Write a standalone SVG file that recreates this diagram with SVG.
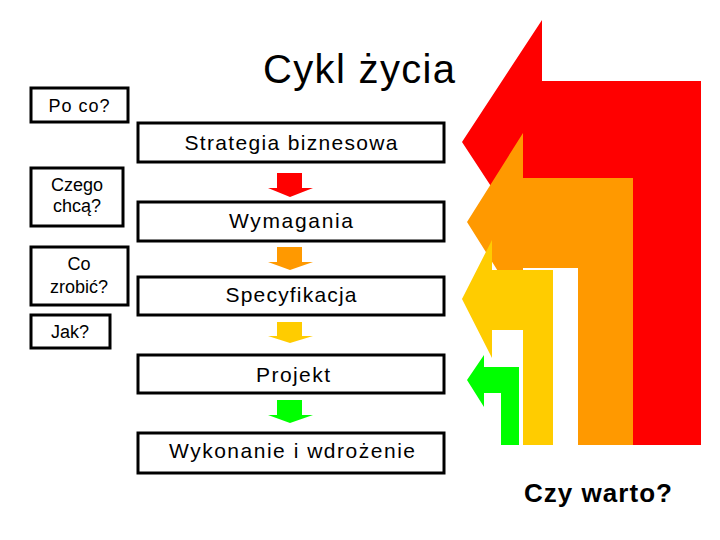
<svg xmlns="http://www.w3.org/2000/svg" width="720" height="540" viewBox="0 0 720 540">
  <style>
    .box { fill: #ffffff; stroke: #000000; stroke-width: 3; }
    .t { font-family: "Liberation Sans", Arial, sans-serif; fill: #000000; text-anchor: middle; }
    .main { font-size: 21px; }
    .side { font-size: 18px; }
  </style>
  <rect width="720" height="540" fill="#ffffff"/>

  <g id="feedback">
    <polygon fill="#ff0000" points="542,20 542,81 701,81 701,445 633,445 633,180 542,180 542,264 462,142"/>
    <polygon fill="#ff9900" points="523,133 523,178 633,178 633,445 578,445 578,268 523,268 523,311 467,222"/>
    <polygon fill="#ffcc00" points="492,240 492,270 553,270 553,445 523,445 523,330 492,330 492,358 462,299"/>
    <polygon fill="#00ff00" points="484,355 484,367 519,367 519,445 501,445 501,393 484,393 484,407 467,380"/>
  </g>

  <text class="t" x="359" y="83" font-size="40" textLength="192" lengthAdjust="spacing">Cykl życia</text>

  <g id="connectors">
    <polygon fill="#ff0000" points="277,173 302,173 302,188 313,188 290,197 268,188 277,188"/>
    <polygon fill="#ff9900" points="277,247 302,247 302,262 313,262 290,270 268,262 277,262"/>
    <polygon fill="#ffcc00" points="277,322 302,322 302,336 313,336 290,343 268,336 277,336"/>
    <polygon fill="#00ff00" points="277,400 302,400 302,415 313,415 290,423 268,415 277,415"/>
  </g>

  <g id="strategia">
    <rect class="box" x="138" y="123" width="306" height="39"/>
    <text class="t main" x="291" y="150" textLength="213" lengthAdjust="spacing">Strategia biznesowa</text>
  </g>
  <g id="wymagania">
    <rect class="box" x="138" y="202" width="306" height="39"/>
    <text class="t main" x="291" y="228" textLength="124" lengthAdjust="spacing">Wymagania</text>
  </g>
  <g id="specyfikacja">
    <rect class="box" x="138" y="277" width="306" height="38"/>
    <text class="t main" x="291" y="302" textLength="131" lengthAdjust="spacing">Specyfikacja</text>
  </g>
  <g id="projekt">
    <rect class="box" x="138" y="355" width="306" height="38"/>
    <text class="t main" x="293" y="382" textLength="74" lengthAdjust="spacing">Projekt</text>
  </g>
  <g id="wykonanie">
    <rect class="box" x="138" y="433" width="306" height="40"/>
    <text class="t main" x="292" y="458" textLength="246" lengthAdjust="spacing">Wykonanie i wdrożenie</text>
  </g>

  <g id="po-co">
    <rect class="box" x="31" y="88" width="97" height="34"/>
    <text class="t side" x="79" y="112" textLength="61" lengthAdjust="spacing">Po co?</text>
  </g>
  <g id="czego-chca">
    <rect class="box" x="31" y="168" width="92" height="58"/>
    <text class="t side" x="77" y="191">Czego</text>
    <text class="t side" x="77" y="212">chcą?</text>
  </g>
  <g id="co-zrobic">
    <rect class="box" x="31" y="247" width="97" height="58"/>
    <text class="t side" x="79" y="270">Co</text>
    <text class="t side" x="79" y="293">zrobić?</text>
  </g>
  <g id="jak">
    <rect class="box" x="31" y="315" width="79" height="33"/>
    <text class="t side" x="70" y="338">Jak?</text>
  </g>

  <text class="t" x="598" y="502" font-size="26" font-weight="bold" textLength="148" lengthAdjust="spacing">Czy warto?</text>
</svg>
